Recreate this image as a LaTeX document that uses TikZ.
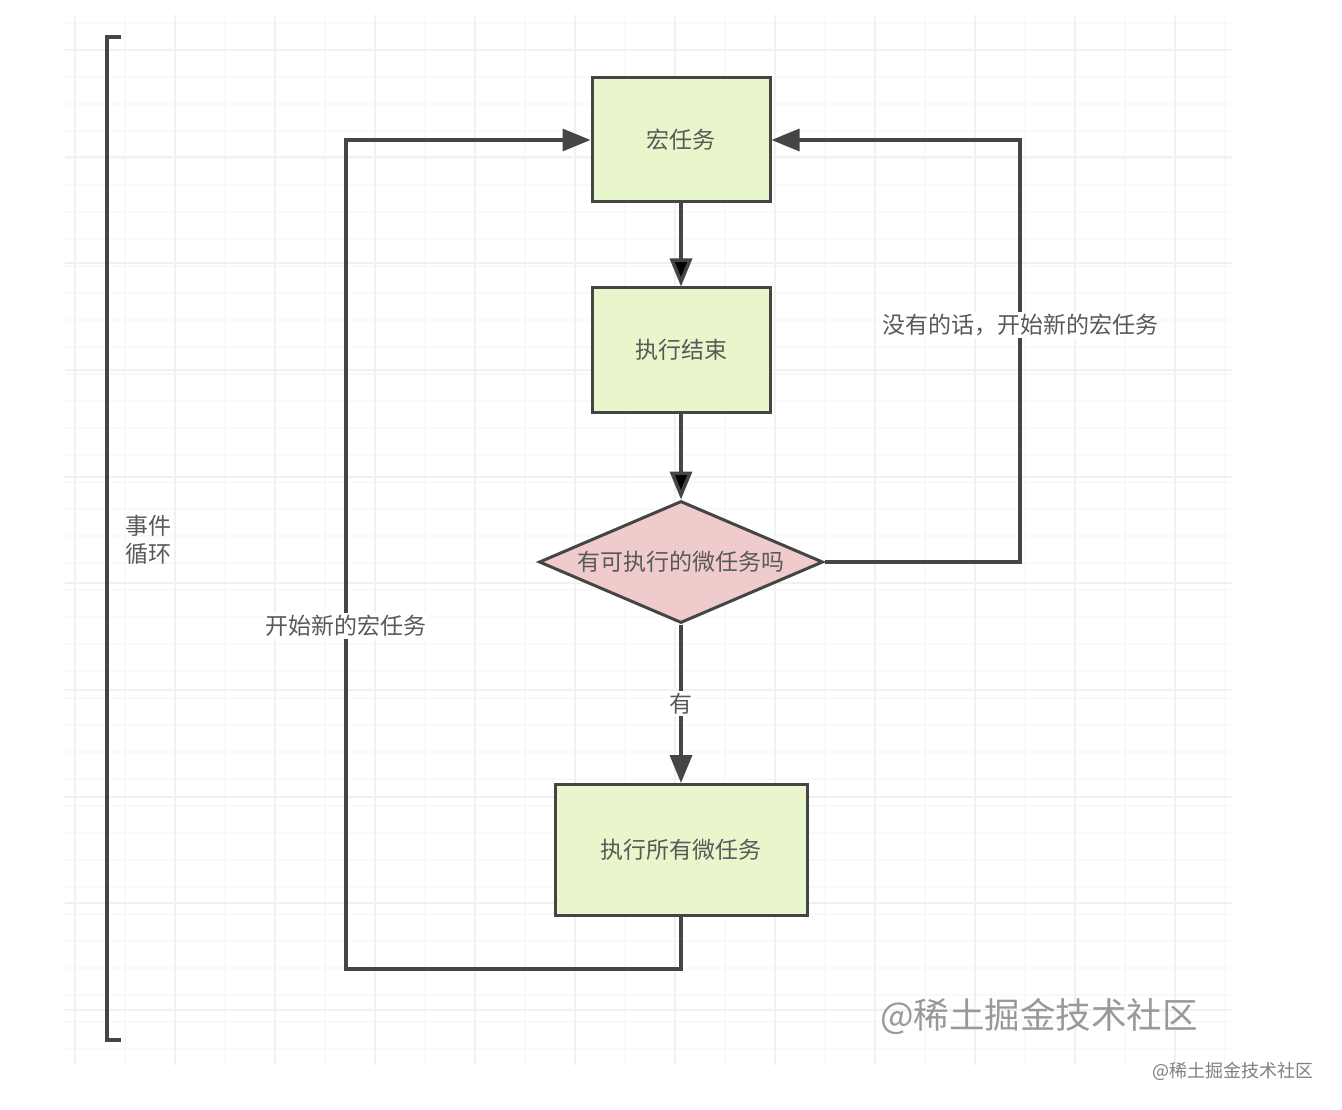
\documentclass[tikz,border=0pt]{standalone}
\usepackage{fontspec}
\setmainfont{Noto Sans CJK SC}
\usetikzlibrary{arrows.meta,shapes.geometric}
\definecolor{linegray}{HTML}{454545}
\definecolor{boxgreen}{HTML}{E9F6CB}
\definecolor{boxpink}{HTML}{EFCBCC}
\definecolor{gridmajor}{HTML}{F1F1F1}
\definecolor{gridminor}{HTML}{F9F9F9}
\tikzset{
  task/.style={draw=linegray,line width=3pt,fill=boxgreen,minimum width=178pt,minimum height=124pt,text=black!65,font=\fontsize{23}{27}\selectfont},
  decision/.style={diamond,draw=linegray,line width=3pt,fill=boxpink,minimum width=284pt,minimum height=122pt,inner sep=0pt,text=black!65,font=\fontsize{23}{27}\selectfont},
  lbl/.style={fill=white,inner sep=2pt,text=black!65,font=\fontsize{23}{27}\selectfont},
  link/.style={draw=linegray,line width=3.5pt}
}

\begin{document}
\begin{tikzpicture}[x=1pt,y=-1pt,>={Triangle[length=28pt,width=22pt]},node distance=210pt]
\useasboundingbox[fill=white] (0,0) rectangle (1342,1110);

% background grid
\foreach \x in {75,125,...,1225} \draw[gridminor,line width=1.2pt] (\x,15) -- (\x,1065);
\foreach \y in {23,50,...,1050} \draw[gridminor,line width=1.2pt] (65,\y) -- (1232,\y);
\foreach \x in {75,175,...,1225} \draw[gridmajor,line width=1.2pt] (\x,15) -- (\x,1065);
\foreach \y in {50,157,263,370,477,583,690,797,903,1010} \draw[gridmajor,line width=1.2pt] (65,\y) -- (1232,\y);

\node[task] (macro) at (681,140) {宏任务};
\node[task] (done) [below of=macro] {执行结束};
\node[decision,node distance=212pt] (check) [below of=done] {\makebox[0pt]{有可执行的微任务吗}};
\node[task,minimum width=252pt,minimum height=131pt,node distance=288pt] (micro) [below of=check] {执行所有微任务};

\coordinate (leftlow) at (346,969);
\coordinate (lefttop) at (346,140);
\coordinate (rightlow) at (1020,562);
\coordinate (righttop) at (1020,140);
\coordinate (microout) at (681,969);
\coordinate (braceta) at (121,37);
\coordinate (bracetb) at (107,37);
\coordinate (bracebb) at (107,1040);
\coordinate (bracebc) at (121,1040);

\path[link,->] (macro) edge (done);
\path[link,->] (done) edge (check);
\draw[link,->] (check) -- node[lbl] {有} (micro);
\draw[link,->] (micro) -- (microout) -- (leftlow) -- node[lbl,pos=0.414] {开始新的宏任务} (lefttop) -- (macro);
\draw[link,->] (check) -- (rightlow) -- node[lbl,pos=0.562] {没有的话，开始新的宏任务} (righttop) -- (macro);
\draw[link] (braceta) -- (bracetb) -- (bracebb) -- (bracebc);

\node[text=black!65,align=left,font=\fontsize{23}{28}\selectfont] (loop) at (148,540) {事件\\循环};
\node[text=black!40,font=\fontsize{35.5}{40}\selectfont] (markbig) at (1039,1016) {@稀土掘金技术社区};
\node[text=black!50,font=\fontsize{18}{20}\selectfont] (marksmall) at (1233,1071) {@稀土掘金技术社区};
\end{tikzpicture}
\end{document}
